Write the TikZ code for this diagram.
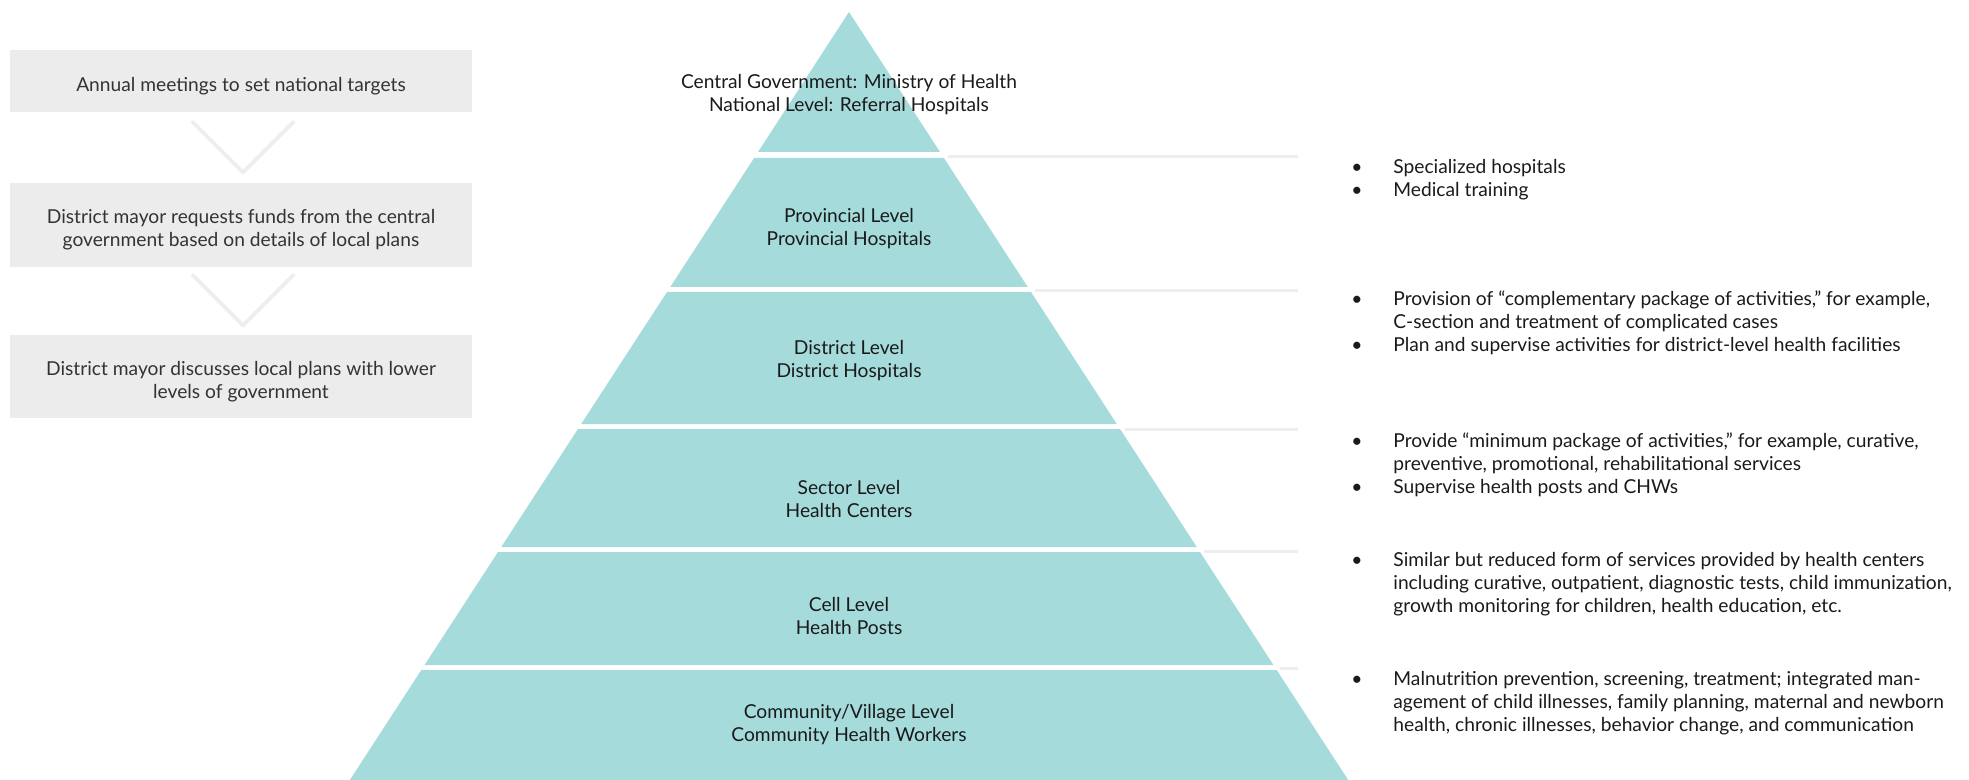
\documentclass[tikz,border=0pt]{standalone}
\usepackage{fontspec}
\setmainfont{Lato}
\usetikzlibrary{calc}

\definecolor{pyrfill}{RGB}{166,219,219}
\definecolor{boxgray}{RGB}{236,236,236}
\definecolor{rulegray}{RGB}{238,238,238}
\definecolor{inkdark}{RGB}{26,26,26}
\definecolor{inkgray}{RGB}{51,51,51}

\newcommand{\txtsize}{\fontsize{9.6}{11.5}\selectfont}
% one bullet row of the right-hand lists
\newcommand{\itm}[1]{\textbullet & #1\\}

\begin{document}
\begin{tikzpicture}[x=0.5pt, y=-0.5pt,
  band/.style={fill=pyrfill},
  lbl/.style={align=center, font=\txtsize, text=inkdark, inner sep=0pt},
  stepbox/.style={fill=boxgray, minimum width=231pt, inner sep=0pt},
  steptxt/.style={align=center, font=\txtsize, text=inkgray, inner sep=0pt, yshift=-2.5pt},
  chev/.style={draw=rulegray, line width=2pt, line cap=round, line join=round},
  rule/.style={draw=rulegray, line width=1.5pt},
  items/.style={anchor=north west, inner sep=0pt, font=\txtsize, text=inkdark}]

\useasboundingbox (0,0) rectangle (1969,780);

% pyramid bands, top/bottom of each
\foreach \t/\b in {12/152, 158/287, 292/424, 429/547, 552/665, 670/780}
  \fill[band] ({849-0.65*(\t-12)},\t) -- ({849+0.65*(\t-12)},\t)
    -- ({849+0.65*(\b-12)},\b) -- ({849-0.65*(\b-12)},\b) -- cycle;

% rules from the pyramid side to the lists
\foreach \y in {157, 291, 429, 551, 668}
  \draw[rule] ({849+0.65*(\y-12)+5},\y) coordinate (r\y) -- (1298,\y);

% level labels
\node[lbl] (natl) at (849,95) {Central Government: Ministry of Health\\National Level: Referral Hospitals};
\node[lbl] (prov) at (849,229) {Provincial Level\\Provincial Hospitals};
\node[lbl] (dist) at (849,361) {District Level\\District Hospitals};
\node[lbl] (sect) at (849,499) {Sector Level\\Health Centers};
\node[lbl] (cell) at (849,616) {Cell Level\\Health Posts};
\node[lbl] (comm) at (849,725) {Community/Village Level\\Community Health Workers};

% planning steps
\node[stepbox, minimum height=31pt,
  label={[steptxt]center:{Annual meetings to set national targets}}] (meet) at (241,81) {};
\node[stepbox, minimum height=42pt,
  label={[steptxt]center:{District mayor requests funds from the central\\government based on details of local plans}}] (funds) at (241,225) {};
\node[stepbox, minimum height=41.5pt,
  label={[steptxt]center:{District mayor discusses local plans with lower\\levels of government}}] (plans) at (241,376.5) {};

\draw[chev] ($(meet.south)+(-48,10)$) -- ($(meet.south)+(2,60)$) -- ($(meet.south)+(52,10)$);
\draw[chev] ($(funds.south)+(-48,8)$) -- ($(funds.south)+(2,58)$) -- ($(funds.south)+(52,8)$);

% what each level does
\node[items] (provtasks) at (1351,157) {\begin{tabular}{@{}p{21pt}@{}p{300pt}@{}}
  \itm{Specialized hospitals}
  \itm{Medical training}
\end{tabular}};
\node[items] (disttasks) at (1351,289) {\begin{tabular}{@{}p{21pt}@{}p{300pt}@{}}
  \itm{Provision of “complementary package of activities,” for example,\newline C-section and treatment of complicated cases}
  \itm{Plan and supervise activities for district-level health facilities}
\end{tabular}};
\node[items] (secttasks) at (1351,431) {\begin{tabular}{@{}p{21pt}@{}p{300pt}@{}}
  \itm{Provide “minimum package of activities,” for example, curative,\newline preventive, promotional, rehabilitational services}
  \itm{Supervise health posts and CHWs}
\end{tabular}};
\node[items] (celltasks) at (1351,550) {\begin{tabular}{@{}p{21pt}@{}p{300pt}@{}}
  \itm{Similar but reduced form of services provided by health centers\newline including curative, outpatient, diagnostic tests, child immunization,\newline growth monitoring for children, health education, etc.}
\end{tabular}};
\node[items] (commtasks) at (1351,669) {\begin{tabular}{@{}p{21pt}@{}p{300pt}@{}}
  \itm{Malnutrition prevention, screening, treatment; integrated man-\newline agement of child illnesses, family planning, maternal and newborn\newline health, chronic illnesses, behavior change, and communication}
\end{tabular}};

\end{tikzpicture}
\end{document}
